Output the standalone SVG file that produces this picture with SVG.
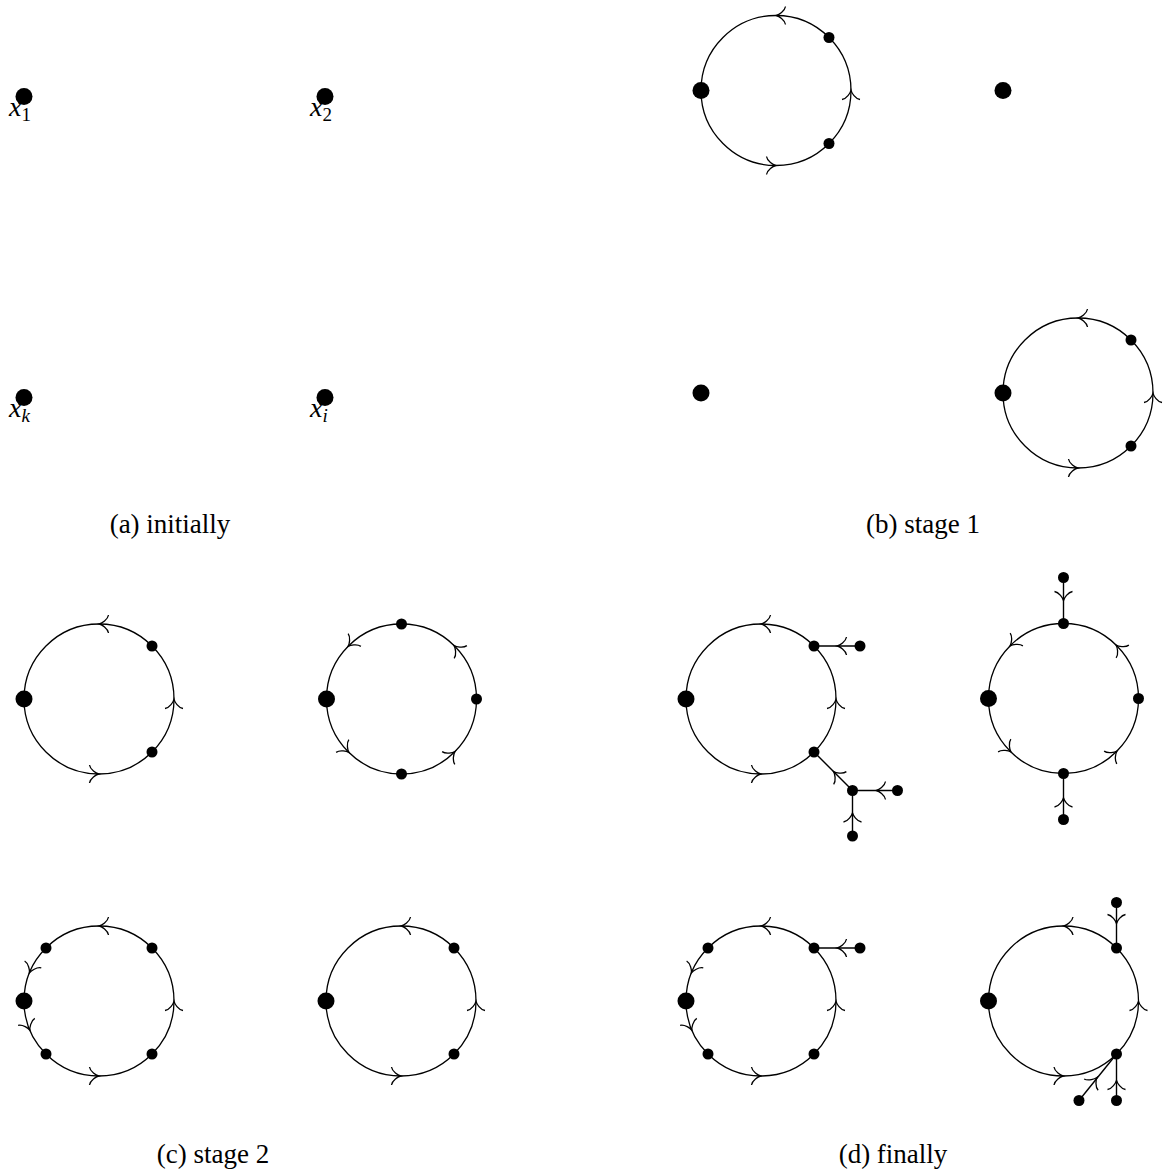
<svg xmlns="http://www.w3.org/2000/svg" xmlns:xlink="http://www.w3.org/1999/xlink" width="1163" height="1171" viewBox="0 0 1163 1171">
<style>
.c{fill:none;stroke:#000;stroke-width:1.3}
.e{stroke:#000;stroke-width:1.4;fill:none}
.big{fill:#000}
.sm{fill:#000}
.lab{font-family:"Liberation Serif",serif;font-style:italic;font-size:28px;fill:#000}
.sub{font-size:19px}
.cap{font-family:"Liberation Serif",serif;font-size:27px;fill:#000;text-anchor:middle}
</style>
<defs>
<path id="ar" d="M-8.5,-9 C-7.8,-4.4 -1.7,-0.6 0.6,0 C-1.7,0.6 -7.8,4.4 -8.5,9" fill="none" stroke="#000" stroke-width="1.3"/>
</defs>
<g id="connectors">
<circle class="c" cx="776" cy="90.5" r="75"/>
<circle class="c" cx="1078" cy="393" r="75"/>
<circle class="c" cx="99" cy="699" r="75"/>
<circle class="c" cx="401.5" cy="699" r="75"/>
<circle class="c" cx="99" cy="1001" r="75"/>
<circle class="c" cx="401" cy="1001" r="75"/>
<circle class="c" cx="761" cy="699" r="75"/>
<circle class="c" cx="1063.5" cy="698.5" r="75"/>
<circle class="c" cx="761" cy="1001" r="75"/>
<circle class="c" cx="1063.5" cy="1001" r="75"/>
<line class="e" x1="814" y1="646" x2="860" y2="646"/>
<line class="e" x1="814" y1="752" x2="852.5" y2="790.5"/>
<line class="e" x1="852.5" y1="790.5" x2="897.5" y2="790.5"/>
<line class="e" x1="852.5" y1="790.5" x2="852.5" y2="836"/>
<line class="e" x1="1063.5" y1="577.5" x2="1063.5" y2="623.5"/>
<line class="e" x1="1063.5" y1="773.5" x2="1063.5" y2="819.5"/>
<line class="e" x1="814" y1="948" x2="860" y2="948"/>
<line class="e" x1="1116.5" y1="902.5" x2="1116.5" y2="948"/>
<line class="e" x1="1116.5" y1="1054" x2="1116.5" y2="1100.5"/>
<line class="e" x1="1116.5" y1="1054" x2="1079" y2="1100.5"/>
<use xlink:href="#ar" transform="translate(777,15.5) rotate(180)"/>
<use xlink:href="#ar" transform="translate(851,91) rotate(-90)"/>
<use xlink:href="#ar" transform="translate(775,165.5)"/>
<use xlink:href="#ar" transform="translate(1079,318) rotate(180)"/>
<use xlink:href="#ar" transform="translate(1153,394) rotate(-90)"/>
<use xlink:href="#ar" transform="translate(1077,468)"/>
<use xlink:href="#ar" transform="translate(100,624) rotate(180)"/>
<use xlink:href="#ar" transform="translate(174,700) rotate(-90)"/>
<use xlink:href="#ar" transform="translate(98,774)"/>
<use xlink:href="#ar" transform="translate(454.5,646) rotate(-135)"/>
<use xlink:href="#ar" transform="translate(348.5,646) rotate(135)"/>
<use xlink:href="#ar" transform="translate(348.5,752) rotate(45)"/>
<use xlink:href="#ar" transform="translate(454.5,752) rotate(-45)"/>
<use xlink:href="#ar" transform="translate(100,926) rotate(180)"/>
<use xlink:href="#ar" transform="translate(174,1002) rotate(-90)"/>
<use xlink:href="#ar" transform="translate(98,1076)"/>
<use xlink:href="#ar" transform="translate(29.7,972.3) rotate(112.5)"/>
<use xlink:href="#ar" transform="translate(29.7,1029.7) rotate(67.5)"/>
<use xlink:href="#ar" transform="translate(402,926) rotate(180)"/>
<use xlink:href="#ar" transform="translate(476,1002) rotate(-90)"/>
<use xlink:href="#ar" transform="translate(400,1076)"/>
<use xlink:href="#ar" transform="translate(762,624) rotate(180)"/>
<use xlink:href="#ar" transform="translate(836,700) rotate(-90)"/>
<use xlink:href="#ar" transform="translate(760,774)"/>
<use xlink:href="#ar" transform="translate(1116.5,645.5) rotate(-135)"/>
<use xlink:href="#ar" transform="translate(1010.5,645.5) rotate(135)"/>
<use xlink:href="#ar" transform="translate(1010.5,751.5) rotate(45)"/>
<use xlink:href="#ar" transform="translate(1116.5,751.5) rotate(-45)"/>
<use xlink:href="#ar" transform="translate(762,926) rotate(180)"/>
<use xlink:href="#ar" transform="translate(836,1002) rotate(-90)"/>
<use xlink:href="#ar" transform="translate(760,1076)"/>
<use xlink:href="#ar" transform="translate(691.7,972.3) rotate(112.5)"/>
<use xlink:href="#ar" transform="translate(691.7,1029.7) rotate(67.5)"/>
<use xlink:href="#ar" transform="translate(1064.5,926) rotate(180)"/>
<use xlink:href="#ar" transform="translate(1138.5,1002) rotate(-90)"/>
<use xlink:href="#ar" transform="translate(1062.5,1076)"/>
<use xlink:href="#ar" transform="translate(838,646) rotate(180)"/>
<use xlink:href="#ar" transform="translate(834,772) rotate(-135)"/>
<use xlink:href="#ar" transform="translate(877,790.5) rotate(180)"/>
<use xlink:href="#ar" transform="translate(852.5,813.5) rotate(-90)"/>
<use xlink:href="#ar" transform="translate(1063.5,600) rotate(90)"/>
<use xlink:href="#ar" transform="translate(1063.5,798.5) rotate(-90)"/>
<use xlink:href="#ar" transform="translate(838,948) rotate(180)"/>
<use xlink:href="#ar" transform="translate(1116.5,923) rotate(90)"/>
<use xlink:href="#ar" transform="translate(1116.5,1081) rotate(-90)"/>
<use xlink:href="#ar" transform="translate(1096.5,1078) rotate(-51)"/>
</g>
<g id="a-x1"><circle class="big" cx="24" cy="96.5" r="8.5"/><text class="lab" x="9" y="116">x<tspan class="sub" dy="5" font-style="normal">1</tspan></text></g>
<g id="a-x2"><circle class="big" cx="325" cy="96.5" r="8.5"/><text class="lab" x="310" y="116">x<tspan class="sub" dy="5" font-style="normal">2</tspan></text></g>
<g id="a-xk"><circle class="big" cx="24" cy="397.5" r="8.5"/><text class="lab" x="9" y="417">x<tspan class="sub" dy="5">k</tspan></text></g>
<g id="a-xi"><circle class="big" cx="325" cy="397.5" r="8.5"/><text class="lab" x="310" y="417">x<tspan class="sub" dy="5">i</tspan></text></g>
<g id="b1-root"><circle class="big" cx="701" cy="90.5" r="8.5"/></g>
<g id="b1-n1"><circle class="sm" cx="829" cy="37.5" r="5.5"/></g>
<g id="b1-n2"><circle class="sm" cx="829" cy="143.5" r="5.5"/></g>
<g id="b2-root"><circle class="big" cx="1003" cy="90.5" r="8.5"/></g>
<g id="b3-root"><circle class="big" cx="701" cy="393" r="8.5"/></g>
<g id="b4-root"><circle class="big" cx="1003" cy="393" r="8.5"/></g>
<g id="b4-n1"><circle class="sm" cx="1131" cy="340" r="5.5"/></g>
<g id="b4-n2"><circle class="sm" cx="1131" cy="446" r="5.5"/></g>
<g id="c1-root"><circle class="big" cx="24" cy="699" r="8.5"/></g>
<g id="c1-n1"><circle class="sm" cx="152" cy="646" r="5.5"/></g>
<g id="c1-n2"><circle class="sm" cx="152" cy="752" r="5.5"/></g>
<g id="c2-root"><circle class="big" cx="326.5" cy="699" r="8.5"/></g>
<g id="c2-n1"><circle class="sm" cx="401.5" cy="624" r="5.5"/></g>
<g id="c2-n2"><circle class="sm" cx="476.5" cy="699" r="5.5"/></g>
<g id="c2-n3"><circle class="sm" cx="401.5" cy="774" r="5.5"/></g>
<g id="c3-root"><circle class="big" cx="24" cy="1001" r="8.5"/></g>
<g id="c3-n1"><circle class="sm" cx="46" cy="948" r="5.5"/></g>
<g id="c3-n2"><circle class="sm" cx="152" cy="948" r="5.5"/></g>
<g id="c3-n3"><circle class="sm" cx="46" cy="1054" r="5.5"/></g>
<g id="c3-n4"><circle class="sm" cx="152" cy="1054" r="5.5"/></g>
<g id="c4-root"><circle class="big" cx="326" cy="1001" r="8.5"/></g>
<g id="c4-n1"><circle class="sm" cx="454" cy="948" r="5.5"/></g>
<g id="c4-n2"><circle class="sm" cx="454" cy="1054" r="5.5"/></g>
<g id="d1-root"><circle class="big" cx="686" cy="699" r="8.5"/></g>
<g id="d1-n1"><circle class="sm" cx="814" cy="646" r="5.5"/></g>
<g id="d1-n2"><circle class="sm" cx="814" cy="752" r="5.5"/></g>
<g id="d1-n3"><circle class="sm" cx="860" cy="646" r="5.5"/></g>
<g id="d1-n4"><circle class="sm" cx="852.5" cy="790.5" r="5.5"/></g>
<g id="d1-n5"><circle class="sm" cx="897.5" cy="790.5" r="5.5"/></g>
<g id="d1-n6"><circle class="sm" cx="852.5" cy="836" r="5.5"/></g>
<g id="d2-root"><circle class="big" cx="988.5" cy="698.5" r="8.5"/></g>
<g id="d2-n1"><circle class="sm" cx="1063.5" cy="623.5" r="5.5"/></g>
<g id="d2-n2"><circle class="sm" cx="1138.5" cy="698.5" r="5.5"/></g>
<g id="d2-n3"><circle class="sm" cx="1063.5" cy="773.5" r="5.5"/></g>
<g id="d2-n4"><circle class="sm" cx="1063.5" cy="577.5" r="5.5"/></g>
<g id="d2-n5"><circle class="sm" cx="1063.5" cy="819.5" r="5.5"/></g>
<g id="d3-root"><circle class="big" cx="686" cy="1001" r="8.5"/></g>
<g id="d3-n1"><circle class="sm" cx="708" cy="948" r="5.5"/></g>
<g id="d3-n2"><circle class="sm" cx="814" cy="948" r="5.5"/></g>
<g id="d3-n3"><circle class="sm" cx="708" cy="1054" r="5.5"/></g>
<g id="d3-n4"><circle class="sm" cx="814" cy="1054" r="5.5"/></g>
<g id="d3-n5"><circle class="sm" cx="860" cy="948" r="5.5"/></g>
<g id="d4-root"><circle class="big" cx="988.5" cy="1001" r="8.5"/></g>
<g id="d4-n1"><circle class="sm" cx="1116.5" cy="948" r="5.5"/></g>
<g id="d4-n2"><circle class="sm" cx="1116.5" cy="1054" r="5.5"/></g>
<g id="d4-n3"><circle class="sm" cx="1116.5" cy="902.5" r="5.5"/></g>
<g id="d4-n4"><circle class="sm" cx="1116.5" cy="1100.5" r="5.5"/></g>
<g id="d4-n5"><circle class="sm" cx="1079" cy="1100.5" r="5.5"/></g>
<g id="captions">
<text class="cap" x="170" y="533">(a) initially</text>
<text class="cap" x="923" y="533">(b) stage 1</text>
<text class="cap" x="213" y="1163">(c) stage 2</text>
<text class="cap" x="893" y="1163">(d) finally</text>
</g>
</svg>
